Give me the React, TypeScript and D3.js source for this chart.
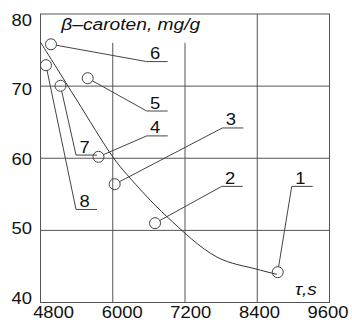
import React from "react";
import * as d3 from "d3";

const W = 352;
const H = 322;

const xTicks = [4800, 6000, 7200, 8400, 9600];
const yTicks = [40, 50, 60, 70, 80];
const xGridShort = [6000, 7200];
const xGridFull = [8400];
const yGrid = [50, 60, 70];

// fitted curve (tau, s ; beta-caroten, mg/g)
const curveX = [4800, 5400, 6000, 6240, 6900, 7730, 8400, 8730];
const curveY = [76.1, 68.1, 60.2, 57.7, 51.9, 46.3, 44.6, 43.9];

// experimental points
const pointIds = ["1", "2", "3", "4", "5", "6", "7", "8"];
const pointX = [8740, 6702, 6032, 5763, 5584, 4974, 5132, 4891];
const pointY = [44.2, 51.0, 56.4, 60.2, 71.1, 75.8, 70.05, 72.9];

// label anchors (start of underline) in data units
const labelX = [8973, 7810, 7820, 6564, 6564, 6564, 5390, 5390];
const labelY = [56.1, 56.1, 64.2, 63.1, 66.55, 73.4, 60.44, 52.9];

const title = "β–caroten, mg/g";
const xTitle = "τ,s";

const SX = 1.15;
const FONT = "'Liberation Sans', Arial, sans-serif";

function T(props: {
  x: number;
  y: number;
  size: number;
  anchor?: string;
  italic?: boolean;
  children: React.ReactNode;
}) {
  return (
    <text
      transform={`translate(${props.x},${props.y}) scale(${SX},1)`}
      textAnchor={props.anchor || "start"}
      fontSize={props.size}
      fontStyle={props.italic ? "italic" : "normal"}
      fontFamily={FONT}
      fill="#111"
    >
      {props.children}
    </text>
  );
}

export default function App() {
  const left = 40.5;
  const right = 329.5;
  const top = 14;
  const bottom = 302.5;

  const x = d3.scaleLinear().domain([4800, 9600]).range([left, right]);
  const y = d3.scaleLinear().domain([40, 80]).range([bottom, top]);
  const xLab = d3.scaleLinear().domain([4800, 9600]).range([53.6, 328]);
  const yLab = d3.scaleLinear().domain([40, 80]).range([298, 20]);

  const line = d3
    .line<number>()
    .x((_, i) => x(curveX[i]))
    .y((_, i) => y(curveY[i]))
    .curve(d3.curveCatmullRom.alpha(0.5));

  const r = 5.5;
  const stroke = "#444";
  const ulen = 21;

  return (
    <svg
      width={W}
      height={H}
      style={{ position: "absolute", left: 0, top: 0, background: "#fff" }}
    >
      <rect x={0} y={0} width={W} height={H} fill="#fff" />
      {/* grid */}
      {yGrid.map((v) => (
        <line key={"gy" + v} x1={left} x2={right} y1={y(v)} y2={y(v)} stroke="#555" strokeWidth={1} />
      ))}
      {xGridShort.map((v) => (
        <line key={"gx" + v} x1={x(v)} x2={x(v)} y1={y(76)} y2={bottom} stroke="#555" strokeWidth={1} />
      ))}
      {xGridFull.map((v) => (
        <line key={"gf" + v} x1={x(v)} x2={x(v)} y1={top} y2={bottom} stroke="#555" strokeWidth={1} />
      ))}
      <rect x={left} y={top} width={right - left} height={bottom - top} fill="none" stroke="#555" strokeWidth={1} />

      {/* curve */}
      <path d={line(curveX) || ""} fill="none" stroke="#333" strokeWidth={1} />

      {/* points, leaders, labels */}
      {pointIds.map((id, i) => {
        const cx = x(pointX[i]);
        const cy = y(pointY[i]);
        const lx = x(labelX[i]);
        const ly = y(labelY[i]);
        const dx = lx - cx;
        const dy = ly - cy;
        const d = Math.sqrt(dx * dx + dy * dy);
        const sx = cx + (dx / d) * r;
        const sy = cy + (dy / d) * r;
        return (
          <g key={id}>
            <circle cx={cx} cy={cy} r={r} fill="none" stroke={stroke} strokeWidth={1} />
            <line x1={sx} y1={sy} x2={lx} y2={ly} stroke={stroke} strokeWidth={1} />
            <line x1={lx} y1={ly} x2={lx + ulen} y2={ly} stroke={stroke} strokeWidth={1} />
            <T x={lx + 8.5} y={ly - 2.5} size={16} anchor="middle">
              {id}
            </T>
          </g>
        );
      })}

      {/* axis labels */}
      {yTicks.map((v) => (
        <T key={"yl" + v} x={32} y={yLab(v) + 5.8} size={16} anchor="end">
          {v}
        </T>
      ))}
      {xTicks.map((v) => (
        <T key={"xl" + v} x={xLab(v)} y={318} size={16} anchor="middle">
          {v}
        </T>
      ))}

      <T x={61.3} y={30} size={16.7} italic>
        {title}
      </T>
      <T x={295} y={295} size={16.5} italic>
        {xTitle}
      </T>
    </svg>
  );
}
